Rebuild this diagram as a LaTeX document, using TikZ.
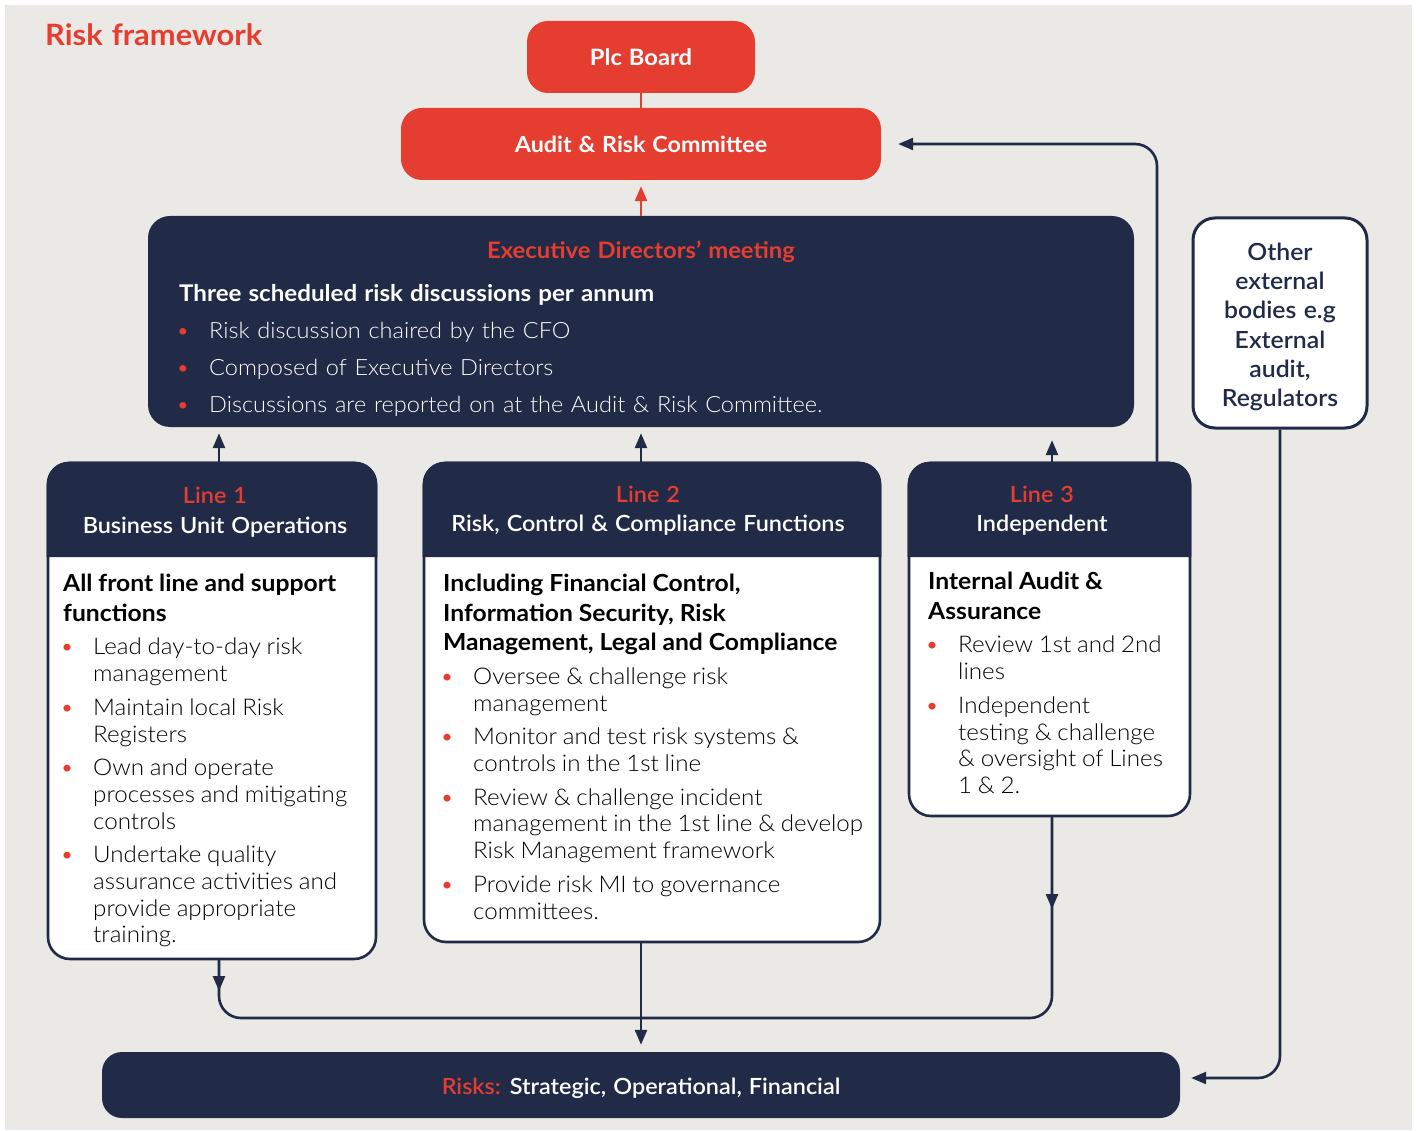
\documentclass[tikz,border=0pt]{standalone}
\usepackage{fontspec}
\usetikzlibrary{arrows.meta}
\setmainfont{Lato}[FakeStretch=1.05,WordSpace=1.2]
\IfFontExistsTF{Lato Light}{\newfontfamily\lightf{Lato Light}[FakeStretch=1.05,WordSpace=1.2]}{\newfontfamily\lightf{Lato}[FakeStretch=1.05,WordSpace=1.2]}
\IfFontExistsTF{Lato Semibold}{\newfontfamily\semif{Lato Semibold}[FakeStretch=1.05,WordSpace=1.2]}{\newcommand\semif{\bfseries}}
\definecolor{rfnavy}{RGB}{33,42,71}
\definecolor{rfred}{RGB}{229,61,48}
\definecolor{rfgrey}{RGB}{235,233,229}

% bold heading paragraph inside a white body
\newcommand\hd[1]{\par\noindent{\rmfamily\bfseries\fontsize{23.5}{29.5}\selectfont\spaceskip=0.25em\relax #1\par}}
% bullet paragraph with hanging indent
\newcommand\bitem[1]{\par\hangindent=30pt\hangafter=1\noindent\hbox to 30pt{\hskip-3pt\textcolor{rfred}{•}\hss}#1\par}
\newcommand\bodyset{\lightf\fontsize{23}{26.7}\selectfont\spaceskip=0.25em\relax\setlength{\parskip}{7pt}\setlength{\parindent}{0pt}}

\begin{document}
\begin{tikzpicture}[x=1pt,y=-1pt,
  redbox/.style={rectangle, rounded corners=21pt, fill=rfred, text=white, inner sep=0pt},
  navybox/.style={rectangle, rounded corners=22pt, fill=rfnavy, inner sep=0pt},
  linebox/.style={rectangle, rounded corners=22pt, draw=rfnavy, line width=2.6pt, fill=white, inner sep=0pt},
  conn/.style={draw=rfnavy, line width=2.6pt},
  arr/.style={conn, -{Triangle[length=15pt,width=12pt]}},
  redarr/.style={draw=rfred, line width=2.6pt, -{Triangle[length=15pt,width=12pt]}},
  txt/.style={inner sep=0pt, anchor=base west},
  headtxt/.style={inner sep=0pt, anchor=base, font=\semif\fontsize{22.3}{26}\selectfont},
  bodynode/.style={inner sep=0pt, anchor=north west, align=left},
]
\useasboundingbox (0,0) rectangle (1416,1131);
\fill[white] (0,0) rectangle (1416,1131);
\fill[rfgrey] (5,5) rectangle (1412,1130);

% helper coordinates for connector lanes
\coordinate (x219) at (219,0);
\coordinate (x641) at (641,0);
\coordinate (x1052) at (1052,0);
\coordinate (x1157) at (1157,0);
\coordinate (yHead) at (0,557);
\coordinate (yJoin) at (0,1018);
\coordinate (yTipA) at (0,991);
\coordinate (yTipB) at (0,909);
\coordinate (yExt) at (0,1078);

% title
\node[txt, text=rfred, font=\bfseries\fontsize{29.4}{30}\selectfont] (title) at (45,46) {Risk framework};

% governance boxes
\node[redbox, minimum width=228pt, minimum height=72pt, font=\bfseries\fontsize{22.6}{26}\selectfont] (plc) at (641,57) {Plc Board};
\node[redbox, minimum width=480pt, minimum height=72pt, font=\bfseries\fontsize{22.2}{26}\selectfont] (arc) at (641,144) {Audit \& Risk Committee};
\node[navybox, minimum width=986pt, minimum height=211pt] (exec) at (641,321.5) {};
\node[linebox, line width=3pt, minimum width=174pt, minimum height=210pt] (ext) at (1280,323) {};
\node[inner sep=0pt, align=center, text=rfnavy, font=\semif\fontsize{23.6}{29.3}\selectfont] (extt) at (1280,327)
  {Other\\external\\bodies e.g\\External\\audit,\\Regulators};

% three lines of defence
\node[linebox, minimum width=328pt, minimum height=496pt] (l1) at (212,711) {};
\node[linebox, minimum width=456pt, minimum height=479pt] (l2) at (652,702.5) {};
\node[linebox, minimum width=281pt, minimum height=353pt] (l3) at (1049.5,639.5) {};
\foreach \b in {l1,l2,l3}{
  \fill[rfnavy] (\b.west |- yHead) {[rounded corners=22pt] -- (\b.north west) -- (\b.north east)} -- (\b.east |- yHead) -- cycle;
}

% risks bar
\node[navybox, rounded corners=20pt, minimum width=1078pt, minimum height=66pt] (risks) at (641,1085) {};
\node[inner sep=0pt, font=\semif\fontsize{22.3}{26}\selectfont, text=white] (riskst) at (641,1088)
  {\textcolor{rfred}{Risks:} Strategic, Operational, Financial};

% executive directors' meeting text
\node[headtxt, font=\bfseries\fontsize{22.7}{26}\selectfont, text=rfred] (exect) at (641,259) {Executive Directors’ meeting};
\node[txt, font=\bfseries\fontsize{23}{26}\selectfont, text=white] (execs) at (179,302) {Three scheduled risk discussions per annum};
\foreach \yy/\tt [count=\i] in {339/Risk discussion chaired by the CFO, 376/Composed of Executive Directors, 413/Discussions are reported on at the Audit \& Risk Committee.}{
  \node[txt, font=\lightf\fontsize{22.4}{26}\selectfont, text=rfred] (eb\i) at (176,\yy) {•};
  \node[txt, font=\lightf\fontsize{22.4}{26}\selectfont, text=white] (et\i) at (209,\yy) {\tt};
}

% line headers
\node[headtxt, text=rfred] (h1a) at (215,503) {Line 1};
\node[headtxt, text=white] (h1b) at (215,533) {Business Unit Operations};
\node[headtxt, text=rfred] (h2a) at (648,502) {Line 2};
\node[headtxt, text=white] (h2b) at (648,531) {Risk, Control \& Compliance Functions};
\node[headtxt, text=rfred] (h3a) at (1042,502) {Line 3};
\node[headtxt, text=white] (h3b) at (1042,531) {Independent};

% line bodies
\node[bodynode, text width=300pt] (b1) at (63,555) {\bodyset%
  \hd{All front line and support\newline functions}%
  \bitem{Lead day-to-day risk\newline management}%
  \bitem{Maintain local Risk\newline Registers}%
  \bitem{Own and operate\newline processes and mitigating\newline controls}%
  \bitem{Undertake quality\newline assurance activities and\newline provide appropriate\newline training.}};
\node[bodynode, text width=430pt] (b2) at (443,555) {\bodyset%
  \hd{Including Financial Control,\newline Information Security, Risk\newline Management, Legal and Compliance}%
  \bitem{Oversee \& challenge risk\newline management}%
  \bitem{Monitor and test risk systems \&\newline controls in the 1st line}%
  \bitem{Review \& challenge incident\newline management in the 1st line \& develop\newline Risk Management framework}%
  \bitem{Provide risk MI to governance\newline committees.}};
\node[bodynode, text width=250pt] (b3) at (928,553) {\bodyset%
  \hd{Internal Audit \&\newline Assurance}%
  \bitem{Review 1st and 2nd\newline lines}%
  \bitem{Independent\newline testing \& challenge\newline \& oversight of Lines\newline 1 \& 2.}};

% connectors
\draw[draw=rfred, line width=2.6pt] (plc.south) -- (arc.north);
\draw[redarr, shorten >=6pt] (exec.north) -- (arc.south);
\draw[arr, shorten >=6pt] (l1.north -| x219) -- (exec.south -| x219);
\draw[arr, shorten >=6pt] (l2.north -| x641) -- (exec.south -| x641);
\draw[arr, shorten >=13pt] (l3.north -| x1052) -- (exec.south -| x1052);
\draw[arr, rounded corners=22pt, shorten >=17pt] (l3.north -| x1157) |- (arc.east);
\draw[arr, rounded corners=22pt, shorten >=11pt] (ext.south) |- (risks.east |- yExt);
\draw[conn, rounded corners=22pt] (l1.south -| x219) |- (x1052 |- yJoin) -- (l3.south -| x1052);
\draw[arr] (l1.south -| x219) -- (x219 |- yTipA);
\draw[arr] (l3.south -| x1052) -- (x1052 |- yTipB);
\draw[arr, shorten >=7pt] (l2.south -| x641) -- (risks.north);
\end{tikzpicture}
\end{document}
